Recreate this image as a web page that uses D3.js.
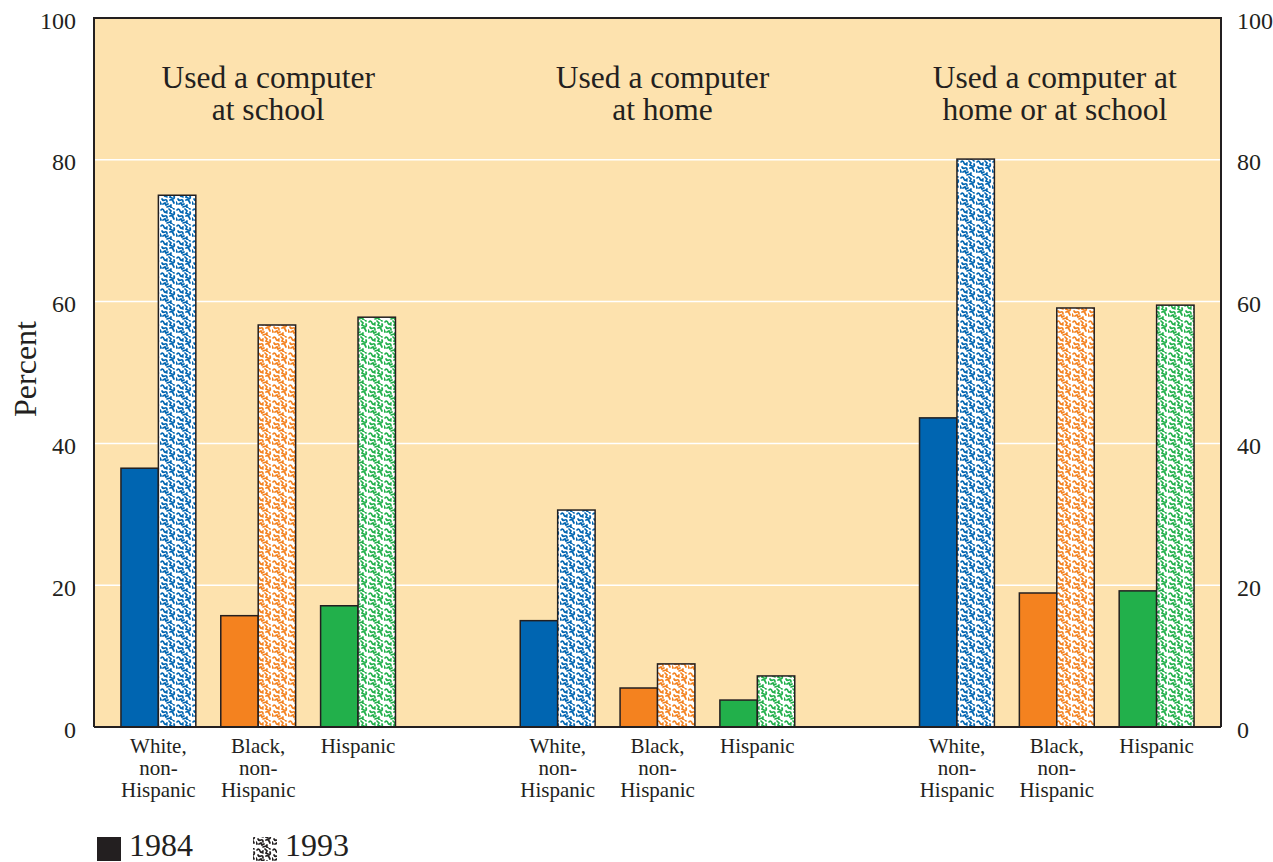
<!DOCTYPE html>
<html><head><meta charset="utf-8">
<script src="https://cdn.jsdelivr.net/npm/d3@7"></script>
<style>body{margin:0;background:#fff}svg{display:block}text{font-family:"Liberation Serif","DejaVu Serif",serif;fill:#231f20}</style>
</head><body><svg id="c" width="1273" height="862"></svg>
<script>
const panels = ["Used a computer\nat school", "Used a computer\nat home", "Used a computer at\nhome or at school"];
const groups = ["White,\nnon-\nHispanic", "Black,\nnon-\nHispanic", "Hispanic"];
const years = ["1984", "1993"];
const v1984 = [[36.5, 15.7, 17.1], [15.0, 5.5, 3.8], [43.6, 18.9, 19.2]];
const v1993 = [[75.0, 56.7, 57.8], [30.6, 8.9, 7.2], [80.1, 59.1, 59.5]];
const yTicks = [0, 20, 40, 60, 80, 100];
const colors = ["#0065b1", "#f4821f", "#22b04b"];

const svg = d3.select("#c");
const L = 94, R = 1221, T = 18, B = 727;
const slots = [];
panels.forEach((p, i) => { groups.forEach((g, j) => slots.push(i + "-" + j)); if (i < 2) slots.push("gap" + i); });
const x = d3.scaleBand().domain(slots).range([L, R]).paddingInner(0.25).paddingOuter(0.27);
const xi = d3.scaleBand().domain(years).range([0, x.bandwidth()]);
const y = d3.scaleLinear().domain([0, 100]).range([B, T]);

// patterns
const squig = ["M1 2 q2 -2 3 1 t3 0", "M9 1 l2 2 l-1 2 l2 1", "M2 7 q1 2 3 1 q2 -1 2 2", "M10 8 q2 -1 3 1 l1 2", "M3 12 l2 -1 l1 2 l2 -1", "M11 13 q-1 2 1 3", "M14 4 q1 2 -1 3", "M6 4 l1 1", "M0 10 l1 2", "M7 15 l3 -1", "M13 0 l1 1"];
const defs = svg.append("defs");
function mkPattern(id, col) {
  const p = defs.append("pattern").attr("id", id).attr("patternUnits", "userSpaceOnUse").attr("width", 16).attr("height", 16);
  p.append("rect").attr("width", 16).attr("height", 16).attr("fill", "#fff");
  squig.forEach(d => p.append("path").attr("d", d).attr("fill", "none").attr("stroke", col).attr("stroke-width", 1.7).attr("stroke-linecap", "round"));
}
colors.forEach((c, i) => mkPattern("pat" + i, c));
mkPattern("patk", "#231f20");

svg.append("rect").attr("x", L).attr("y", T).attr("width", R - L).attr("height", B - T).attr("fill", "#fde2ae");
svg.append("g").selectAll("line").data(yTicks.filter(t => t > 0 && t < 100)).join("line")
  .attr("x1", L).attr("x2", R).attr("y1", d => y(d)).attr("y2", d => y(d)).attr("stroke", "#fff").attr("stroke-width", 1.5);

// bars
panels.forEach((p, i) => {
  groups.forEach((g, j) => {
    const x0 = x(i + "-" + j);
    [v1984[i][j], v1993[i][j]].forEach((v, k) => {
      svg.append("rect").attr("x", x0 + xi(years[k])).attr("y", y(v)).attr("width", xi.bandwidth()).attr("height", y(0) - y(v))
        .attr("fill", k === 0 ? colors[j] : "url(#pat" + j + ")").attr("stroke", "#231f20").attr("stroke-width", 1.5);
    });
    g.split("\n").forEach((ln, li) => svg.append("text").attr("text-anchor", "middle").attr("font-size", 21)
      .attr("x", x0 + x.bandwidth() / 2).attr("y", 753 + li * 22).text(ln));
  });
  const cx = x(i + "-1") + x.bandwidth() / 2 + [10, 5, -2][i];
  p.split("\n").forEach((ln, li) => svg.append("text").attr("text-anchor", "middle").attr("font-size", 31.5)
    .attr("x", cx).attr("y", 88 + li * 32).text(ln));
});

// frame
svg.append("path").attr("d", `M${L},${B}V${T}H${R}V${B}`).attr("fill", "none").attr("stroke", "#231f20").attr("stroke-width", 2);
svg.append("line").attr("x1", L).attr("x2", R).attr("y1", B).attr("y2", B).attr("stroke", "#231f20").attr("stroke-width", 2);

// axes
const yl = svg.append("g").attr("transform", `translate(${L},0)`).call(d3.axisLeft(y).tickValues(yTicks).tickSize(0).tickPadding(18));
const yr = svg.append("g").attr("transform", `translate(${R},0)`).call(d3.axisRight(y).tickValues(yTicks).tickSize(0).tickPadding(16));
[yl, yr].forEach(g => { g.select(".domain").remove(); g.selectAll("text").attr("font-size", 24).attr("font-family", "Liberation Serif").attr("fill", "#231f20").attr("dy", "0.42em"); });
yl.selectAll("text").attr("x", -18);

svg.append("text").attr("transform", `translate(36,369) rotate(-90)`).attr("text-anchor", "middle").attr("font-size", 32).text("Percent");

// legend
const lg = svg.append("g");
[["#231f20", "1984", 97], ["url(#patk)", "1993", 253]].forEach(([f, lab, lx]) => {
  lg.append("rect").attr("x", lx).attr("y", 837).attr("width", 24).attr("height", 24).attr("fill", f);
  lg.append("text").attr("x", lx + 32).attr("y", 856).attr("font-size", 32).text(lab);
});
</script></body></html>
